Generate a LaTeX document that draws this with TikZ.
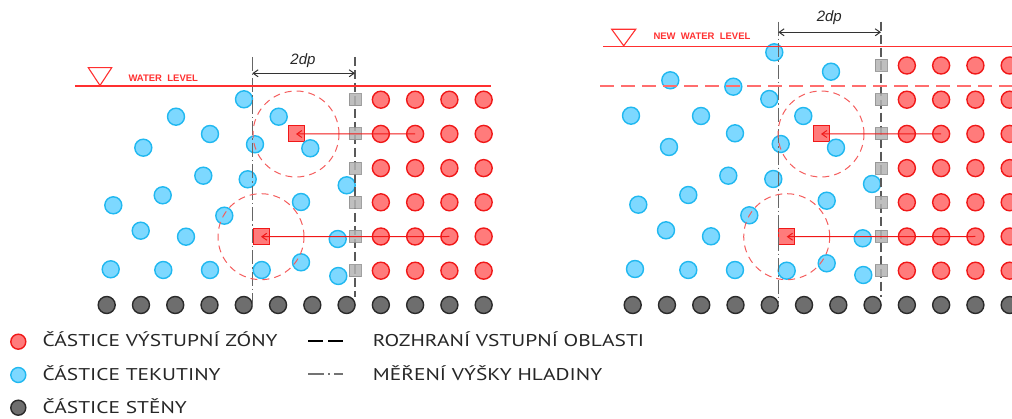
\documentclass[tikz,border=0pt]{standalone}
\usepackage{fontspec}
\setmainfont{PT Sans}
\newfontfamily\legfont{PT Sans}[FakeStretch=1.26]
\newfontfamily\labfont{Liberation Sans}
\usetikzlibrary{arrows.meta}
\definecolor{rfill}{HTML}{FF7B7B}
\definecolor{rdraw}{HTML}{F01818}
\definecolor{bfill}{HTML}{7DD8FF}
\definecolor{bdraw}{HTML}{20B8F0}
\definecolor{gfill}{HTML}{6E6E6E}
\definecolor{gdraw}{HTML}{2A2A2A}
\definecolor{sqfill}{HTML}{B4B4B4}
\definecolor{sqdraw}{HTML}{909090}
\definecolor{lvl}{HTML}{FF3030}
\tikzset{
  part/.style={circle, minimum size=17pt, inner sep=0pt, line width=1.4pt},
  outpart/.style={part, draw=rdraw, fill=rfill},
  fluidpart/.style={part, draw=bdraw, fill=bfill},
  wallpart/.style={part, draw=gdraw, fill=gfill},
  probe/.style={rectangle, minimum size=12pt, inner sep=0pt, draw=sqdraw, fill=sqfill, line width=1pt, opacity=0.85},
  meas/.style={rectangle, minimum size=16pt, inner sep=0pt, draw=rdraw, fill=rfill, line width=1pt},
  iface/.style={draw=black!65, line width=1.3pt, dash pattern=on 9pt off 4pt},
  mline/.style={draw=black!60, line width=1.2pt, dash pattern=on 14pt off 3pt on 1.5pt off 3pt},
  kernel/.style={draw=rdraw!70, line width=1pt, dash pattern=on 7pt off 5pt},
  link/.style={draw=rdraw, line width=1pt, -{Straight Barb[length=5pt,width=7pt]}},
  dim/.style={draw=black!80, line width=1pt, {Straight Barb[length=5pt,width=7pt]}-{Straight Barb[length=5pt,width=7pt]}},
  lvlline/.style={draw=lvl, line width=1.5pt},
  lvltri/.style={draw=lvl, line width=1.1pt},
  lvltxt/.style={text=lvl, font=\labfont\bfseries\fontsize{9.5}{10}\selectfont, inner sep=0pt, anchor=west},
  dimtxt/.style={font=\labfont\itshape\fontsize{15}{16}\selectfont, text=black!85, inner sep=0pt},
  legtxt/.style={font=\legfont\fontsize{17}{18}\selectfont, text=black!85, anchor=base west, inner sep=0pt},
  legpart/.style={circle, minimum size=15pt, inner sep=0pt, line width=1.4pt},
}
\begin{document}
\begin{tikzpicture}[x=1pt,y=-1pt]
\path[use as bounding box] (0,0) rectangle (1012,419);
\clip (0,0) rectangle (1012,419);

% ---------------- LEFT PANEL ----------------
\node[meas] (lsq1) at (296,134) {};
\node[meas] (lsq2) at (261,236.7) {};
\foreach \i in {0,...,11} \node[wallpart] (lw\i) at ({106.7+34.27*\i},305) {};
\foreach \j in {8,...,11} \foreach \k in {0,...,5}
  \node[outpart] (lr\j-\k) at ({106.7+34.27*\j},{270.7-34.2*\k}) {};
\foreach \x/\y [count=\n] in {244/99.3,176/116.7,278.7/116.7,210/134,143.3/147.7,255/144.3,310.3/148.3,203.3/175.7,247.7/179.3,346.7/185.3,162.7/195.3,113.3/205.3,301/202,224.3/215.7,140.7/230.7,186/236.7,337.7/239,110.7/269.3,163.3/270,210/270,261.7/270,301/262.3,338.3/276}
  \node[fluidpart] (lb\n) at (\x,\y) {};
\coordinate (lmtop) at (252.3,57);
\coordinate (lmbot) at (252.3,310);
\coordinate (litop) at (355,57);
\coordinate (libot) at (355,297);
\draw[mline] (lmtop) -- (lmbot);
\draw[iface] (litop) -- (libot);
\foreach \k in {0,...,5} \node[probe] (lp\k) at (355,{270.7-34.2*\k}) {};
\draw[kernel] (lsq1) circle[radius=43pt];
\draw[kernel] (lsq2) circle[radius=43pt];
\draw[link] (lr9-4.center) -- (lsq1.center);
\draw[link] (lr10-1.center) -- (lsq2.center);
\coordinate (lda) at (252.3,73.3);
\coordinate (ldb) at (355,73.3);
\draw[dim] (lda) -- (ldb);
\node[dimtxt] (ldt) at (303,60.7) {2dp};
\coordinate (lwa) at (75,86);
\coordinate (lwb) at (490.7,86);
\draw[lvlline] (lwa) -- (lwb);
\draw[lvltri] (88.3,67.7) -- (111.7,67.7) -- (100,85.5) -- cycle;
\node[lvltxt] (lwt) at (128.3,78.5) {WATER\ \ LEVEL};

% ---------------- RIGHT PANEL ----------------
\node[meas] (rsq1) at (821,134) {};
\node[meas] (rsq2) at (786.7,236.7) {};
\foreach \i in {0,...,11} \node[wallpart] (rw\i) at ({632.7+34.27*\i},305) {};
\foreach \j in {8,...,11} \foreach \k in {0,...,6}
  \node[outpart] (rr\j-\k) at ({632.7+34.27*\j},{270.7-34.2*\k}) {};
\foreach \x/\y [count=\n] in {774.3/52.3,831/71.7,670.3/80.3,733.3/86.7,769.3/99,631/115.7,701/116,803.3/116,735/133.3,669/147,780.7/144,836/147.7,728.3/175.7,773.3/179,872/184,688.3/195,638.3/204.7,826.7/200.7,749.3/215.3,666/230.3,711/236.3,862.7/238.3,635/269,688.3/270,735/270,786.7/270.7,826.7/263.3,863.3/275}
  \node[fluidpart] (rb\n) at (\x,\y) {};
\coordinate (rmtop) at (778.3,21.7);
\coordinate (rmbot) at (778.3,305);
\coordinate (ritop) at (881,21.7);
\coordinate (ribot) at (881,297);
\draw[mline] (rmtop) -- (rmbot);
\draw[iface] (ritop) -- (ribot);
\foreach \k in {0,...,6} \node[probe] (rp\k) at (881,{270.7-34.2*\k}) {};
\draw[kernel] (rsq1) circle[radius=43pt];
\draw[kernel] (rsq2) circle[radius=43pt];
\draw[link] (rr9-4.center) -- (rsq1.center);
\draw[link] (rr10-1.center) -- (rsq2.center);
\coordinate (rda) at (778.3,32.3);
\coordinate (rdb) at (881,32.3);
\draw[dim] (rda) -- (rdb);
\node[dimtxt] (rdt) at (829.3,17.3) {2dp};
\coordinate (rwa) at (603.3,46.3);
\coordinate (rwb) at (1012,46.3);
\draw[lvlline] (rwa) -- (rwb);
\coordinate (roa) at (600,86);
\coordinate (rob) at (1012,86);
\draw[draw=lvl!70, line width=1.3pt, dash pattern=on 14pt off 7pt] (roa) -- (rob);
\draw[lvltri] (611.7,29.3) -- (635.7,29.3) -- (623.7,45.8) -- cycle;
\node[lvltxt] (rwt) at (653.3,36.7) {NEW\ \ WATER\ \ LEVEL};

% ---------------- LEGEND ----------------
\node[legpart, draw=rdraw, fill=rfill] (k1) at (18.3,341.7) {};
\node[legpart, draw=bdraw, fill=bfill] (k2) at (18.3,375) {};
\node[legpart, draw=gdraw, fill=gfill] (k3) at (18.3,407.7) {};
\node[legtxt] (t1) at (42.5,347) {ČÁSTICE VÝSTUPNÍ ZÓNY};
\node[legtxt] (t2) at (42.5,380.5) {ČÁSTICE TEKUTINY};
\node[legtxt] (t3) at (42.5,413.5) {ČÁSTICE STĚNY};
\coordinate (ka) at (308.3,341);
\coordinate (kb) at (343.3,341);
\draw[black, line width=2.5pt, dash pattern=on 15pt off 5pt] (ka) -- (kb);
\coordinate (kc) at (308.3,374.5);
\coordinate (kd) at (343.3,374.5);
\draw[black!55, line width=2pt, dash pattern=on 16pt off 4pt on 2pt off 4pt] (kc) -- (kd);
\node[legtxt] (t4) at (372.7,347) {ROZHRANÍ VSTUPNÍ OBLASTI};
\node[legtxt] (t5) at (372.7,380.5) {MĚŘENÍ VÝŠKY HLADINY};
\end{tikzpicture}
\end{document}
